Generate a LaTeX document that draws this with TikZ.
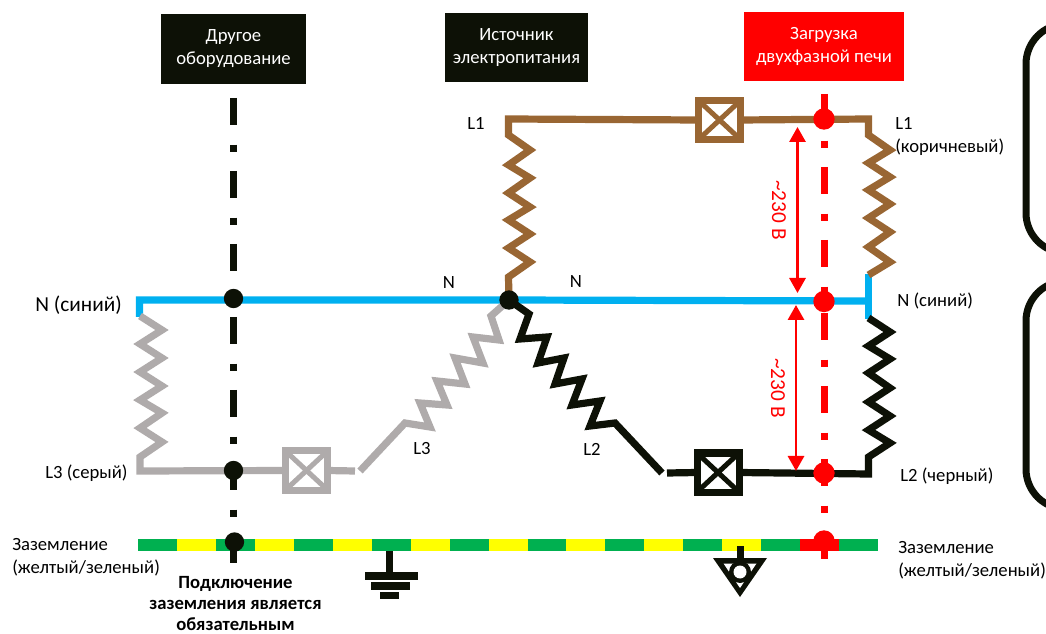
\documentclass[tikz,border=0pt]{standalone}
\usepackage{fontspec}
\setmainfont{Carlito}
\usetikzlibrary{arrows.meta}
\definecolor{wbrown}{HTML}{996633}
\definecolor{wblue}{HTML}{00B0F0}
\definecolor{wgray}{HTML}{AFABAB}
\definecolor{wblack}{HTML}{0D1106}
\definecolor{wgreen}{HTML}{00B050}
\definecolor{wyellow}{HTML}{FFFF00}
\definecolor{wred}{HTML}{FF0000}
\tikzset{
  wire/.style={line width=5.4pt,line join=miter,miter limit=10},
  phasebox/.style={minimum width=31.5pt,minimum height=29.25pt,draw=#1,fill=white,line width=5.25pt,inner sep=0pt,outer sep=0pt},
  dashline/.style={line width=5.25pt,dash pattern=on 19.9pt off 15pt on 5.25pt off 14.6pt},
  header/.style={fill=#1,text=white,inner sep=0pt,align=center,font=\fontsize{14}{17.25}\selectfont},
  lbl/.style={inner sep=0pt,font=\fontsize{14}{17.25}\selectfont},
  lbll/.style={lbl,anchor=west,align=left},
  jdot/.style={circle,fill=#1,inner sep=0pt,outer sep=0pt},
  volt/.style={draw=wred,line width=2.2pt,{Triangle[length=11.25pt,width=12pt,fill=wred]}-{Triangle[length=11.25pt,width=12pt,fill=wred]}},
  seg/.style={fill=#1,draw=none}
}
\begin{document}
\begin{tikzpicture}[x=0.75pt,y=-0.75pt]
\useasboundingbox (0,0) rectangle (1046,634);
\begin{scope}
\clip (0,0) rectangle (1046,634);
\draw[wblack,line width=5.25pt,rounded corners=30pt] (1100,24) -- (1026,24) -- (1026,253) -- (1100,253);
\draw[wblack,line width=5.25pt,rounded corners=30pt] (1100,281) -- (1026,281) -- (1026,509) -- (1100,509);
\end{scope}
% header boxes
\node[header=wblack,minimum width=108.75pt,minimum height=52.5pt] (other) at (233.5,49) {\raisebox{-0.75pt}{Другое}\\\raisebox{-0.75pt}{оборудование}};
\node[header=wblack,minimum width=107.25pt,minimum height=51.75pt] (source) at (516.5,47.5) {\raisebox{-0.75pt}{Источник}\\\raisebox{-0.75pt}{электропитания}};
\node[header=wred,minimum width=120pt,minimum height=51.75pt] (load) at (824,46.5) {\raisebox{-0.75pt}{Загрузка}\\\raisebox{-0.75pt}{двухфазной печи}};
% ground bar
\foreach \i in {0,...,18}{
  \pgfmathsetmacro{\xa}{138+38.95*\i}
  \pgfmathsetmacro{\xb}{\xa+38.95}
  \pgfmathtruncatemacro{\odd}{mod(\i,2)}
  \ifnum\i=17 \def\c{wred}\else\ifnum\odd=1 \def\c{wyellow}\else\def\c{wgreen}\fi\fi
  \fill[seg=\c] (\xa,538.5) rectangle (\xb,551);
}
\coordinate (ga) at (233.5,98);
\coordinate (gb) at (233.5,563);
\coordinate (ra) at (824,94);
\coordinate (rb) at (824,561);
% wires
\node[phasebox=wbrown] (bbrown) at (719.5,120) {};
\node[phasebox=wblack] (bblack) at (718,472.5) {};
\node[phasebox=wgray] (bgray) at (306.5,470.5) {};
\foreach \b/\c in {bbrown/wbrown,bblack/wblack,bgray/wgray}{
  \draw[\c,line width=3.75pt] (\b.north west) -- (\b.south east) (\b.north east) -- (\b.south west);
}
\coordinate (star) at (509,300);
\coordinate (nl) at (139.5,300);
\coordinate (nr) at (868.5,301);
% neutral
\draw[wire,wblue] (139.5,317) -- (nl) -- (star) -- (nr);
\draw[wire,wblue] (868.5,274) -- (868.5,319);
% L1 source
\draw[wire,wbrown] (star) -- (508.5,277) -- (530,262) -- (508.5,248) -- (530,234) -- (508.5,220) -- (530,207) -- (508.5,193) -- (530,178) -- (508.5,165) -- (530,150) -- (508.5,135) -- (508.5,119) -- (bbrown.west);
% L1 load
\draw[wire,wbrown] (bbrown.east) -- (868.5,119) -- (868.5,135) -- (890,150) -- (868.5,163) -- (890,177) -- (868.5,190) -- (890,204) -- (868.5,218) -- (890,232) -- (868.5,247) -- (890,262) -- (868.5,275);
% L2 load
\draw[wire,wblack] (bblack.east) -- (868.5,474) -- (868.5,457) -- (890,443) -- (868.5,430) -- (890,416) -- (868.5,402) -- (890,388) -- (868.5,373) -- (890,359) -- (868.5,346) -- (890,332) -- (868.5,318);
% L2 source
\draw[wire,wblack] (star) -- (529,314) -- (520,339) -- (547,337) -- (538,363) -- (564,358) -- (555,384) -- (582,379) -- (572,405) -- (600,401) -- (590,426) -- (615,423) -- (662,473);
\draw[wire,wblack] (667,473) -- (bblack.west);
% L3 source
\draw[wire,wgray] (star) -- (491,316) -- (499,340) -- (473,337) -- (483,363) -- (455,358) -- (465,384) -- (437,381) -- (447,405) -- (420,403) -- (430,427) -- (405,423) -- (360,471);
\draw[wire,wgray] (bgray.east) -- (355,471);
% L3 load
\draw[wire,wgray] (bgray.west) -- (140,471) -- (140,457) -- (162,442) -- (140,428) -- (162,413) -- (140,400) -- (162,386) -- (140,372) -- (162,358) -- (140,344) -- (162,330) -- (140,316);
% dash dot verticals
\draw[dashline,wblack] (ga) -- (gb);
\draw[dashline,wred] (ra) -- (rb);
% junction dots
\node[jdot=wblack,minimum size=14.5pt] (s0) at (star) {};
\node[jdot=wblack,minimum size=14.5pt] (g1) at (233.5,298.5) {};
\node[jdot=wblack,minimum size=14.5pt] (g2) at (233.5,470.5) {};
\node[jdot=wblack,minimum size=14.5pt] (g3) at (234.5,542) {};
\node[jdot=wred,minimum size=16pt] (r1) at (824,119) {};
\node[jdot=wred,minimum size=16pt] (r2) at (824,301.5) {};
\node[jdot=wred,minimum size=16pt] (r3) at (824,473) {};
\node[jdot=wred,minimum size=16pt] (r4) at (824,541) {};
% voltage arrows
\coordinate (v1a) at (797.5,127);
\coordinate (v1b) at (797.5,293);
\coordinate (v2a) at (796,305);
\coordinate (v2b) at (796,471);
\draw[volt] (v1a) -- (v1b);
\draw[volt] (v2a) -- (v2b);
\node[lbl,text=wred,rotate=-90,font=\fontsize{16}{19}\selectfont] (u1) at (779,210) {\textasciitilde 230 В};
\node[lbl,text=wred,rotate=-90,font=\fontsize{16}{19}\selectfont] (u2) at (778,388) {\textasciitilde 230 В};
% earth symbol
\coordinate (e0) at (389,551);
\coordinate (e1) at (389,573);
\draw[wblack,line width=5.25pt] (e0) -- (e1);
\fill[wblack] (365,572) rectangle (418,579.5);
\fill[wblack] (371,582) rectangle (410,589.5);
\fill[wblack] (380,592) rectangle (399,598.5);
% triangle symbol
\coordinate (t0) at (740,546);
\coordinate (t1) at (740,558);
\draw[wblack,line width=5.25pt] (t0) -- (t1);
\fill[wblack] (713,558) -- (767,558) -- (740,597) -- cycle;
\fill[white] (723.5,563.5) -- (756.5,563.5) -- (740,588) -- cycle;
\fill[wblack] (740,572) circle (11);
\fill[white] (740,572) circle (6.5);
% labels
\node[lbl] (l1a) at (476,123) {L1};
\node[lbll] (l1b) at (895,123) {L1};
\node[lbll] (l1c) at (895,147) {(коричневый)};
\node[lbl] (n1) at (449,283) {N};
\node[lbl] (n2) at (576,282) {N};
\node[lbll,font=\fontsize{16}{19}\selectfont] (nleft) at (35,305) {N (синий)};
\node[lbll] (nright) at (897,301) {N (синий)};
\node[lbll] (l3left) at (45,473) {L3 (серый)};
\node[lbl] (l3) at (422,449) {L3};
\node[lbl] (l2) at (592,449) {L2};
\node[lbll] (l2right) at (900,476) {L2 (черный)};
\node[lbll] (gl1) at (12,545) {Заземление};
\node[lbll] (gl2) at (12,568) {(желтый/зеленый)};
\node[lbll] (gr1) at (898,548) {Заземление};
\node[lbll] (gr2) at (898,571) {(желтый/зеленый)};
\node[lbl,align=center,font=\fontsize{14}{16}\selectfont\bfseries] (note) at (235.5,603.5) {Подключение\\заземления является\\обязательным};
\end{tikzpicture}
\end{document}
